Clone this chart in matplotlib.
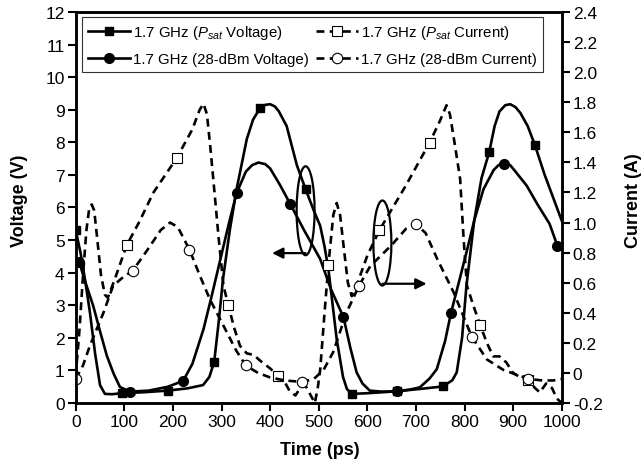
import numpy as np
import matplotlib
matplotlib.use("Agg")
from matplotlib import pyplot as plt
from matplotlib.patches import Ellipse
from matplotlib.legend_handler import HandlerTuple
from matplotlib.ticker import MultipleLocator, FuncFormatter

plt.rcParams['font.family'] = ['Liberation Sans', 'DejaVu Sans']
plt.rcParams['mathtext.fontset'] = 'custom'
plt.rcParams['mathtext.rm'] = 'Liberation Sans'
plt.rcParams['mathtext.it'] = 'Liberation Sans:italic'
plt.rcParams['axes.unicode_minus'] = False

# Psat voltage (left axis)
t_vsat = [0, 10, 20, 29, 40, 50, 60, 75, 95, 140, 189, 230, 262, 275, 285, 295, 303, 317, 331,
          352, 365, 379, 390, 400, 410, 418, 434, 455, 473, 490, 503, 512, 520, 537, 550, 558,
          568, 600, 662, 720, 756, 775, 784, 795, 804, 820, 835, 851, 862, 872, 884, 894, 905,
          915, 930, 945, 965, 980, 1000]
v_sat = [5.3, 4.6, 3.7, 2.8, 1.5, 0.55, 0.28, 0.27, 0.30, 0.33, 0.38, 0.45, 0.55, 0.8, 1.27, 2.6,
         3.8, 5.3, 6.56, 8.1, 8.7, 9.04, 9.15, 9.17, 9.1, 8.95, 8.5, 7.3, 6.56, 5.9, 5.44, 4.8,
         4.1, 1.96, 0.8, 0.43, 0.28, 0.3, 0.36, 0.45, 0.51, 0.7, 0.94, 2.0, 3.6, 5.6, 6.9, 7.71,
         8.5, 8.95, 9.14, 9.17, 9.08, 8.9, 8.5, 7.91, 7.0, 6.4, 5.6]
t_vsat_mk = [0, 95, 189, 285, 379, 473, 568, 662, 756, 851, 945]
v_sat_mk = [5.3, 0.30, 0.38, 1.27, 9.04, 6.56, 0.28, 0.36, 0.51, 7.71, 7.91]

# 28-dBm voltage (left axis)
t_v28 = [0, 7, 20, 36, 50, 64, 78, 91, 112, 150, 190, 221, 240, 263, 280, 297, 315, 331, 350,
         363, 376, 390, 400, 420, 441, 470, 503, 525, 551, 565, 578, 590, 605, 630, 662, 690,
         708, 728, 743, 760, 772, 790, 804, 820, 839, 860, 870, 882, 894, 905, 928, 950, 975,
         991, 1000]
v_28 = [4.45, 4.33, 3.7, 2.98, 2.2, 1.45, 0.9, 0.49, 0.35, 0.38, 0.5, 0.68, 1.2, 2.27, 3.3,
        4.37, 5.5, 6.44, 7.1, 7.3, 7.38, 7.33, 7.2, 6.7, 6.12, 5.3, 4.42, 3.5, 2.63, 1.7, 0.94,
        0.6, 0.38, 0.35, 0.36, 0.42, 0.48, 0.75, 1.04, 1.9, 2.75, 3.8, 4.62, 5.6, 6.56, 7.15,
        7.3, 7.35, 7.3, 7.1, 6.67, 6.1, 5.5, 4.83, 4.75]
t_v28_mk = [7, 112, 221, 331, 441, 551, 662, 772, 882, 991]
v_28_mk = [4.33, 0.35, 0.68, 6.44, 6.12, 2.63, 0.36, 2.75, 7.35, 4.83]

# Psat current (right axis)
t_isat = [0, 8, 15, 22, 28, 33, 38, 44, 52, 60, 66, 80, 105, 130, 160, 208, 240, 255, 263, 270,
          277, 283, 294, 304, 314, 326, 338, 352, 366, 380, 400, 417, 430, 440, 452, 462, 472,
          482, 492, 498, 503, 512, 520, 530, 537, 544, 552, 560, 568, 580, 600, 625, 680, 728,
          750, 763, 770, 780, 791, 798, 805, 818, 832, 846, 859, 872, 886, 900, 915, 931, 945,
          955, 968, 980, 990, 1000]
i_sat = [-0.02, 0.3, 0.65, 0.95, 1.1, 1.12, 1.08, 0.9, 0.65, 0.52, 0.50, 0.62, 0.85, 1.0, 1.2,
         1.43, 1.62, 1.75, 1.79, 1.72, 1.5, 1.29, 0.9, 0.58, 0.45, 0.3, 0.18, 0.13, 0.12, 0.08,
         0.03, -0.02, -0.06, -0.12, -0.15, -0.10, -0.08, -0.14, -0.2, -0.1, 0.02, 0.4, 0.72,
         1.05, 1.13, 1.05, 0.82, 0.6, 0.51, 0.6, 0.78, 0.95, 1.25, 1.53, 1.68, 1.78, 1.72, 1.52,
         1.29, 0.9, 0.58, 0.45, 0.32, 0.2, 0.11, 0.11, 0.07, 0.0, -0.03, -0.05, -0.1, -0.13,
         -0.07, -0.1, -0.17, -0.2]
t_isat_mk = [105, 208, 314, 417, 520, 625, 728, 832, 931]
i_sat_mk = [0.85, 1.43, 0.45, -0.02, 0.72, 0.95, 1.53, 0.32, -0.05]

# 28-dBm current (right axis)
t_i28 = [0, 15, 29, 43, 57, 77, 95, 117, 135, 150, 175, 194, 210, 234, 255, 276, 295, 311, 330,
         350, 375, 400, 430, 466, 490, 510, 530, 557, 583, 606, 650, 680, 700, 720, 745, 777,
         800, 815, 846, 880, 931, 960, 983, 1000]
i_28 = [-0.04, 0.05, 0.18, 0.29, 0.40, 0.58, 0.63, 0.68, 0.76, 0.83, 0.95, 1.0, 0.97, 0.82,
        0.65, 0.49, 0.37, 0.27, 0.15, 0.05, 0.0, -0.03, -0.05, -0.06, -0.04, 0.02, 0.14, 0.40,
        0.58, 0.71, 0.85, 0.96, 0.99, 0.93, 0.75, 0.54, 0.36, 0.24, 0.09, 0.02, -0.04, -0.05,
        -0.05, -0.04]
t_i28_mk = [1, 117, 234, 350, 466, 583, 700, 815, 931]
i_28_mk = [-0.04, 0.68, 0.82, 0.05, -0.06, 0.58, 0.99, 0.24, -0.04]

labels = [r'1.7 GHz ($P_{sat}$ Voltage)', '1.7 GHz (28-dBm Voltage)',
          r'1.7 GHz ($P_{sat}$ Current)', '1.7 GHz (28-dBm Current)']

fig, ax = plt.subplots(figsize=(6.44, 4.64), dpi=100)
fig.subplots_adjust(left=0.1176, right=0.8722, bottom=0.1293, top=0.972)
ax2 = ax.twinx()

lw = 1.9
dash = (0, (3, 2))
l1, = ax.plot(t_vsat, v_sat, color='black', lw=lw)
m1, = ax.plot(t_vsat_mk, v_sat_mk, ls='none', marker='s', ms=6, color='black')
l3, = ax.plot(t_v28, v_28, color='black', lw=lw)
m3, = ax.plot(t_v28_mk, v_28_mk, ls='none', marker='o', ms=7, color='black')

l2, = ax2.plot(t_isat, i_sat, color='black', lw=lw, ls=dash)
m2, = ax2.plot(t_isat_mk, i_sat_mk, ls='none', marker='s', ms=6.5, mfc='white', mec='black', mew=0.8)
l4, = ax2.plot(t_i28, i_28, color='black', lw=lw, ls=dash)
m4, = ax2.plot(t_i28_mk, i_28_mk, ls='none', marker='o', ms=7.5, mfc='white', mec='black', mew=0.8)

# ellipses and arrows marking which axis each group uses
ax.add_patch(Ellipse((473, 5.9), 37, 2.73, fill=False, ec='black', lw=1.6))
ax.annotate('', xy=(404, 4.6), xytext=(473, 4.6),
            arrowprops=dict(arrowstyle='-|>', lw=1.6, color='black', mutation_scale=16,
                            shrinkA=0, shrinkB=0))
ax.add_patch(Ellipse((631, 4.91), 37, 2.61, fill=False, ec='black', lw=1.6))
ax.annotate('', xy=(722, 3.66), xytext=(631, 3.66),
            arrowprops=dict(arrowstyle='-|>', lw=1.6, color='black', mutation_scale=16,
                            shrinkA=0, shrinkB=0))

ax.set_xlim(0, 1000)
ax.set_ylim(0, 12)
ax2.set_ylim(-0.2, 2.4)
ax.xaxis.set_major_locator(MultipleLocator(100))
ax.yaxis.set_major_locator(MultipleLocator(1))
ax2.yaxis.set_major_locator(MultipleLocator(0.2))
ax2.yaxis.set_major_formatter(FuncFormatter(lambda v, p: '0' if abs(v) < 1e-9 else '%.1f' % v))

for a in (ax, ax2):
    for s in a.spines.values():
        s.set_linewidth(1.8)
    a.tick_params(direction='out', length=6, width=1.5, labelsize=12.5, pad=2, colors='black')

ax.set_xlabel('Time (ps)', fontsize=13, fontweight='bold')
ax.set_ylabel('Voltage (V)', fontsize=13, fontweight='bold')
ax2.set_ylabel('Current (A)', fontsize=13, fontweight='bold')
ax.xaxis.set_label_coords(0.503, -0.097)
ax.yaxis.set_label_coords(-0.099, 0.52)
ax2.yaxis.set_label_coords(1.13, 0.52)

leg = ax2.legend([(l1, m1), (l3, m3), (l2, m2), (l4, m4)], labels, ncol=2,
                 handler_map={tuple: HandlerTuple(ndivide=1)},
                 loc='upper left', bbox_to_anchor=(0.012, 0.987), borderaxespad=0,
                 fontsize=10.8, handlelength=2.8, handletextpad=0.2, columnspacing=0.5,
                 labelspacing=0.75, borderpad=0.4, fancybox=False, framealpha=1,
                 edgecolor='#333333')
leg.get_frame().set_linewidth(0.8)

plt.savefig('out.png', dpi=100)
